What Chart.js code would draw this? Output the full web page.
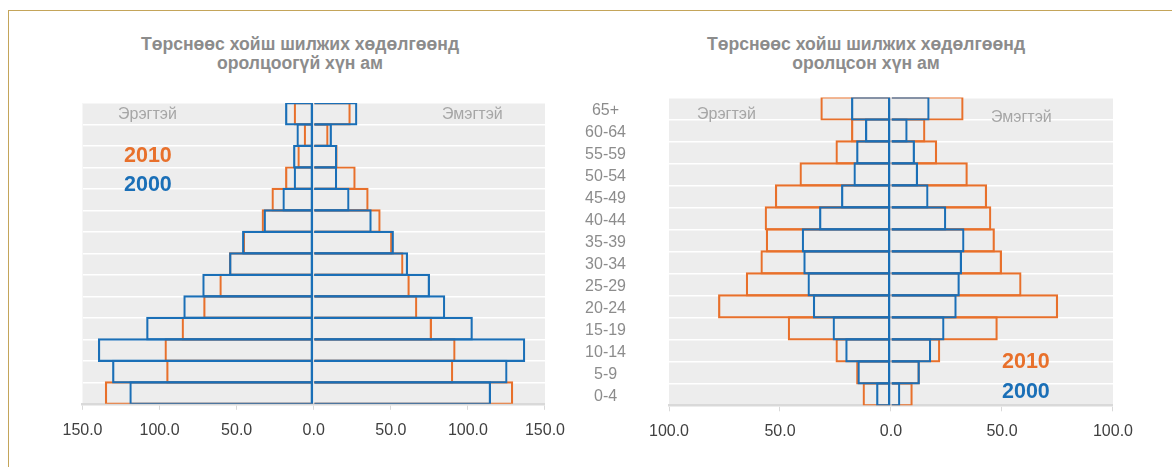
<!DOCTYPE html>
<html>
<head>
<meta charset="utf-8">
<script src="https://cdn.jsdelivr.net/npm/chart.js@4.4.1/dist/chart.umd.min.js"></script>
<style>
  body { margin: 0; width: 1172px; height: 467px; background: #fff; overflow: hidden; position: relative;
         font-family: "Liberation Sans", Arial, sans-serif; }
  .frame { position: absolute; left: 8px; top: 10px; right: 0; bottom: 0;
           border-top: 1px solid #c4a55a; border-left: 1px solid #c4a55a; }
  .box { position: absolute; top: 0; height: 467px; }
  .title { position: absolute; width: 600px; top: 35px; text-align: center; font-weight: bold;
           font-size: 17.6px; line-height: 18.6px; color: #8c8c8c; }
  .lbl { position: absolute; white-space: nowrap; line-height: 1; }
  .sex { font-size: 16px; color: #a6a6a6; }
  .year { font-size: 21.5px; font-weight: bold; }
</style>
</head>
<body>
<div class="frame"></div>

<div class="title" style="left:0px">Төрснөөс хойш шилжих хөдөлгөөнд<br>оролцоогүй хүн ам</div>
<div class="title" style="left:566px">Төрснөөс хойш шилжих хөдөлгөөнд<br>оролцсон хүн ам</div>

<div class="box" style="left:0px;width:576px"><canvas id="left" width="576" height="467"></canvas></div>
<div class="box" style="left:560px;width:584px"><canvas id="right" width="584" height="467"></canvas></div>

<div class="lbl sex" style="left:118px;top:106px">Эрэгтэй</div>
<div class="lbl sex" style="left:442px;top:106px">Эмэгтэй</div>
<div class="lbl year" style="left:124px;top:145px;color:#e8702b">2010</div>
<div class="lbl year" style="left:124px;top:174px;color:#1a6fb7">2000</div>

<div class="lbl sex" style="left:697px;top:106px">Эрэгтэй</div>
<div class="lbl sex" style="left:991px;top:109px">Эмэгтэй</div>
<div class="lbl year" style="left:1002px;top:351px;color:#e8702b">2010</div>
<div class="lbl year" style="left:1002px;top:381px;color:#1a6fb7">2000</div>

<script>
// age groups, top row first
const ageGroups = ['65+', '60-64', '55-59', '50-54', '45-49', '40-44', '35-39',
                   '30-34', '25-29', '20-24', '15-19', '10-14', '5-9', '0-4']

// population that never migrated since birth
const stayMale2000   = [18.6, 11.2, 13.4, 13.0, 20.3, 32.5, 46.5, 54.9, 72.3, 84.6, 108.7, 140.0, 130.8, 119.6]
const stayFemale2000 = [28.3, 11.8, 15.2, 15.2, 23.2, 37.6, 52.0, 61.2, 75.4, 85.3, 103.2, 137.2, 125.7, 115.0]
const stayMale2010   = [13.0, 6.5, 10.6, 18.6, 27.4, 33.8, 46.0, 55.0, 61.2, 71.7, 85.7, 96.8, 95.7, 135.5]
const stayFemale2010 = [24.0, 9.6, 15.5, 27.2, 35.6, 43.4, 51.0, 58.2, 62.3, 67.2, 76.7, 92.0, 90.5, 129.4]

// population that migrated since birth
const moveMale2000   = [18.0, 11.7, 15.7, 16.9, 22.5, 32.4, 40.2, 39.5, 37.6, 35.2, 26.3, 20.6, 15.1, 6.7]
const moveFemale2000 = [17.4, 7.5, 10.8, 12.2, 16.9, 24.9, 33.1, 32.0, 31.0, 29.6, 24.1, 18.1, 13.0, 4.2]
const moveMale2010   = [31.8, 18.0, 25.0, 41.2, 52.3, 56.9, 56.4, 58.8, 65.4, 77.9, 46.5, 25.0, 15.7, 12.8]
const moveFemale2010 = [32.7, 15.5, 20.8, 34.6, 43.3, 45.2, 46.8, 50.0, 58.8, 75.3, 48.1, 22.2, 13.0, 9.8]

const blue = '#1a6fb7'
const orange = '#e8702b'

const plotBg = {
  id: 'plotBg',
  beforeDraw(chart) {
    const a = chart.chartArea
    const ctx = chart.ctx
    ctx.save()
    ctx.fillStyle = '#ededed'
    ctx.fillRect(a.left, a.top, a.right - a.left, a.bottom - a.top)
    ctx.restore()
  }
}

// bars are a bit taller than a row so neighbouring outlines overlap like in Excel.
// the zero line is drawn once, by the 2000 male bars only
function bar(data, color, male, mid) {
  return {
    data: male ? data.map(v => -v) : data,
    borderColor: color,
    backgroundColor: 'rgba(0,0,0,0)',
    borderWidth: male ? { top: 2.2, bottom: 2.2, left: 2.2, right: mid }
                      : { top: 2.2, bottom: 2.2, left: 0, right: 2.2 },
    borderSkipped: false,
    categoryPercentage: 1,
    barPercentage: 1.1
  }
}

function pyramid(id, sets, limit, labelWidth, padding) {
  return new Chart(document.getElementById(id), {
    type: 'bar',
    data: {
      labels: ageGroups,
      // first dataset is painted last, so the 2000 outlines sit on top
      datasets: [
        bar(sets[0], blue, true, 2.5),
        bar(sets[1], blue, false, 0),
        bar(sets[2], orange, true, 0),
        bar(sets[3], orange, false, 0)
      ]
    },
    options: {
      indexAxis: 'y',
      responsive: false,
      animation: false,
      devicePixelRatio: 1,
      grouped: false,
      layout: { padding },
      plugins: { legend: { display: false }, tooltip: { enabled: false } },
      scales: {
        x: {
          min: -limit,
          max: limit,
          ticks: {
            stepSize: 50,
            padding: 11,
            color: '#404040',
            font: { family: 'Liberation Sans, Arial', size: 16 },
            callback: v => Math.abs(v).toFixed(1)
          },
          grid: { drawOnChartArea: false, tickLength: 6, color: '#d9d9d9' },
          border: { color: '#d9d9d9', width: 2.5 }
        },
        y: {
          afterFit: s => { s.width = labelWidth },
          ticks: {
            display: labelWidth > 0,
            autoSkip: false,
            padding: 43,
            labelOffset: 2,
            crossAlign: 'center',
            color: '#8c8c8c',
            font: { family: 'Liberation Sans, Arial', size: 16 }
          },
          grid: { color: '#ffffff', lineWidth: 1.5, drawTicks: false },
          border: { display: false }
        }
      }
    },
    plugins: [plotBg]
  })
}

pyramid('left', [stayMale2000, stayFemale2000, stayMale2010, stayFemale2010], 150, 0,
  { left: 82.5, right: 22.5, top: 103, bottom: 16 })
pyramid('right', [moveMale2000, moveFemale2000, moveMale2010, moveFemale2010], 100, 84,
  { left: 25, right: 28, top: 97.5, bottom: 14.5 })
</script>
</body>
</html>
